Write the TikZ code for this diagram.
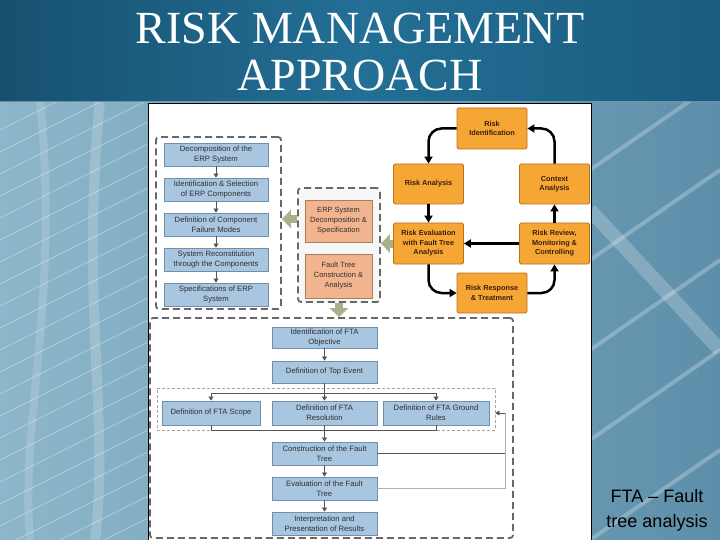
\documentclass[tikz,border=0pt]{standalone}
\usepackage{fontspec}
\setmainfont{Liberation Sans}
\newfontfamily\titlefont{Liberation Serif}
\usetikzlibrary{arrows.meta,calc}
\definecolor{bgL}{HTML}{8DB6CA}
\definecolor{bgR}{HTML}{5E8FAA}
\definecolor{tiL}{HTML}{17506F}
\definecolor{tiM}{HTML}{236F95}
\definecolor{tiR}{HTML}{1A5C80}
\definecolor{bluefill}{HTML}{A8C6E0}
\definecolor{bluedraw}{HTML}{6F8FAA}
\definecolor{boxtext}{HTML}{303030}
\definecolor{orfill}{HTML}{F6A635}
\definecolor{ordraw}{HTML}{B8721C}
\definecolor{ortext}{HTML}{3B1E08}
\definecolor{salfill}{HTML}{F2B48E}
\definecolor{saldraw}{HTML}{A9805E}
\definecolor{grpdraw}{HTML}{686868}
\definecolor{fatc}{HTML}{A9B189}
\definecolor{linec}{HTML}{555555}
\begin{document}
\begin{tikzpicture}[x=1pt,y=-1pt,
  bluebox/.style={draw=bluedraw,fill=bluefill,line width=0.8pt,inner sep=1pt,
    minimum width=#1,align=center,text=boxtext,
    font=\fontsize{7.7}{10}\selectfont},
  orbox/.style={draw=ordraw,fill=orfill,line width=0.8pt,rounded corners=1.5pt,inner sep=1pt,
    minimum width=70pt,align=center,text=ortext,
    font=\bfseries\fontsize{7.3}{9.5}\selectfont},
  salbox/.style={draw=saldraw,fill=salfill,line width=0.8pt,inner sep=1pt,
    minimum width=67pt,align=center,text=boxtext,
    font=\fontsize{7.5}{10}\selectfont},
  grp/.style={draw=grpdraw,line width=1.8pt,dash pattern=on 7pt off 4pt,rounded corners=3pt,inner sep=0pt},
  dotgrp/.style={draw=gray!70,line width=0.9pt,dash pattern=on 3pt off 2pt,inner sep=0pt},
  sarr/.style={draw=linec,line width=0.6pt,-{Triangle[length=4pt,width=5pt]}},
  thinl/.style={draw=linec,line width=0.6pt},
  cyc/.style={draw=black,line width=2.5pt,rounded corners=13pt,-{Triangle[length=7pt,width=8pt]}},
  fat/.style={draw=fatc,line width=8pt,-{Triangle[length=9pt,width=18pt]}}
]
\useasboundingbox (0,0) rectangle (720,540);
% background
\shade[left color=bgL,right color=bgR] (0,100) rectangle (720,540);
\begin{scope}
\clip (0,102) rectangle (720,540);
\foreach \y in {130,152,...,700} {
  \draw[white,opacity=0.25,line width=1.2pt] (0,\y) -- (150,\y-75);
}
\draw[white,opacity=0.18,line width=10pt] (100,102) .. controls (80,300) and (110,420) .. (95,540);
\draw[white,opacity=0.15,line width=8pt] (40,102) .. controls (60,300) and (20,420) .. (30,540);
\foreach \y in {170,260,350,440,540} {
  \draw[white,opacity=0.25,line width=4pt] (590,\y) -- (720,\y-90);
}
\draw[white,opacity=0.22,line width=14pt] (590,210) -- (720,350);
\end{scope}
\shade[left color=tiL,right color=tiR,middle color=tiM] (0,0) rectangle (720,102);
\draw[white,opacity=0.35,line width=1pt] (0,101.5) -- (720,101.5);
% title
\node[anchor=base,text=white,font=\titlefont\fontsize{46}{46}\selectfont] (t1) at (360,44) {RISK MANAGEMENT};
\node[anchor=base,text=white,font=\titlefont\fontsize{46}{46}\selectfont] (t2) at (360,91) {APPROACH};
% white panel
\draw[black,line width=1pt,fill=white] (148,104) rectangle (591,541);
% groups
\node[grp,minimum width=125pt,minimum height=172pt] (leftg) at (218.5,223) {};
\node[grp,fill=gray!6,minimum width=82pt,minimum height=114pt] (mid) at (339,245) {};
\node[grp,minimum width=363pt,minimum height=220pt] (lower) at (331.5,428) {};
\node[dotgrp,minimum width=338pt,minimum height=42pt] (inner) at (326,409) {};
% left column
\node[bluebox=104pt,minimum height=23pt] (b1) at (216,154.5) {Decomposition of the\\ERP System};
\node[bluebox=104pt,minimum height=23pt] (b2) at (216,189.5) {Identification \& Selection\\of ERP Components};
\node[bluebox=104pt,minimum height=23pt] (b3) at (216,224.5) {Definition of Component\\Failure Modes};
\node[bluebox=104pt,minimum height=23pt] (b4) at (216,259.5) {System Reconstitution\\through the Components};
\node[bluebox=104pt,minimum height=23pt] (b5) at (216,294.5) {Specifications of ERP\\System};
\foreach \a/\b in {b1/b2,b2/b3,b3/b4,b4/b5} \draw[sarr] (\a.south) -- (\b.north);
% middle column
\node[salbox,minimum height=42pt] (m1) at (338.5,221) {ERP System\\Decomposition \&\\Specification};
\node[salbox,minimum height=44pt] (m2) at (338.5,276) {Fault Tree\\Construction \&\\Analysis};
% cycle
\node[orbox,minimum height=41pt] (ri) at (492,128.5) {Risk\\Identification};
\node[orbox,minimum height=40pt] (ra) at (428.5,184) {Risk Analysis};
\node[orbox,minimum height=40pt] (ca) at (554.5,184) {Context\\Analysis};
\node[orbox,minimum height=41pt] (re) at (428.5,243.5) {Risk Evaluation\\with Fault Tree\\Analysis};
\node[orbox,minimum height=41pt] (rr) at (554.5,243.5) {Risk Review,\\Monitoring \&\\Controlling};
\node[orbox,minimum height=40pt] (rs) at (492,293) {Risk Response\\\& Treatment};
\draw[cyc] (ri.west) -| (ra.north);
\draw[cyc] (ra.south) -- (re.north);
\draw[cyc] (re.south) |- (rs.west);
\draw[cyc] (rs.east) -| (rr.south);
\draw[cyc] (rr.north) -- (ca.south);
\draw[cyc] (ca.north) |- (ri.east);
\draw[cyc] (rr.west) -- (re.east);
% fat arrows
\draw[fat] (mid.west |- 0,219) -- (leftg.east |- 0,219);
\draw[fat] (re.west) -- (mid.east |- re.west);
\draw[fat] (mid.south) -- (mid.south |- lower.north);
% lower column
\node[bluebox=105pt,minimum height=21pt] (l1) at (324.5,337.5) {Identification of FTA\\Objective};
\node[bluebox=105pt,minimum height=22pt] (l2) at (324.5,372) {Definition of Top Event};
\node[bluebox=98pt,minimum height=24pt] (sc) at (211,413) {Definition of FTA Scope};
\node[bluebox=105pt,minimum height=24pt] (rsl) at (324.5,413) {Definition of FTA\\Resolution};
\node[bluebox=106pt,minimum height=24pt] (gr) at (436,413) {Definition of FTA Ground\\Rules};
\node[bluebox=105pt,minimum height=23pt] (l4) at (324.5,453.5) {Construction of the Fault\\Tree};
\node[bluebox=105pt,minimum height=23pt] (l5) at (324.5,488.5) {Evaluation of the Fault\\Tree};
\node[bluebox=105pt,minimum height=23pt] (l6) at (324.5,523.5) {Interpretation and\\Presentation of Results};
\draw[sarr] (l1.south) -- (l2.north);
\coordinate (j) at (324.5,393);
\draw[thinl] (l2.south) -- (j);
\draw[sarr] (j) -- (rsl.north);
\draw[sarr] (j) -| (sc.north);
\draw[sarr] (j) -| (gr.north);
\coordinate (k) at (324.5,430);
\draw[thinl] (sc.south) |- (k);
\draw[thinl] (gr.south) |- (k);
\draw[sarr] (rsl.south) -- (l4.north);
\draw[sarr] (l4.south) -- (l5.north);
\draw[sarr] (l5.south) -- (l6.north);
\coordinate (fb) at (505,413);
\draw[thinl] (l4.east) -| (fb);
\draw[thinl,draw=gray!60] (l5.east) -| (fb);
\draw[sarr] (fb) -- (inner.east |- fb);
% caption
\node[align=center,text=black,font=\fontsize{18}{25}\selectfont] (cap) at (657,510) {FTA -- Fault\\tree analysis};
\end{tikzpicture}
\end{document}
